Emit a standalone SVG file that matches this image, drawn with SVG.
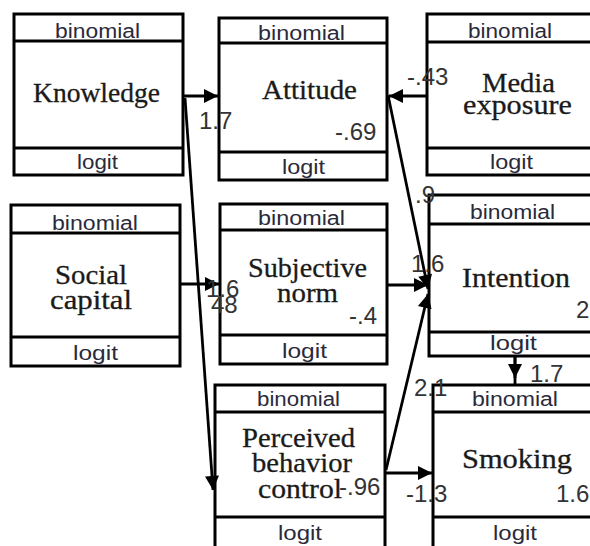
<svg xmlns="http://www.w3.org/2000/svg" width="590" height="546" viewBox="0 0 590 546">
<style>
.box{fill:#fff;stroke:#000;stroke-width:3}
.sep{stroke:#000;stroke-width:3}
.hd{font-family:"Liberation Sans",Arial,sans-serif;font-size:20px;fill:#2a2a3a}
.nm{font-family:"Liberation Serif","Times New Roman",serif;font-size:27px;fill:#1a1a1a;stroke:#1a1a1a;stroke-width:0.3}
.lb{font-family:"Liberation Sans",Arial,sans-serif;font-size:24px;fill:#333}
.cn{stroke:#000;stroke-width:2.8;fill:none}
</style>
<defs>
<marker id="ah" viewBox="0 0 10 10" markerUnits="userSpaceOnUse" markerWidth="20" markerHeight="14" refX="10" refY="5" orient="auto">
<path d="M0,0 L10,5 L0,10 z" fill="#000"/>
</marker>
</defs>
<rect width="590" height="546" fill="#fff"/>

<g id="knowledge">
<rect class="box" x="14" y="14" width="169" height="161"/>
<line class="sep" x1="14" y1="41" x2="183" y2="41"/>
<line class="sep" x1="14" y1="148" x2="183" y2="148"/>
<text class="hd" x="55" y="38" textLength="85" lengthAdjust="spacingAndGlyphs">binomial</text>
<text class="nm" x="33" y="102" textLength="127" lengthAdjust="spacingAndGlyphs">Knowledge</text>
<text class="hd" x="77" y="169" textLength="41" lengthAdjust="spacingAndGlyphs">logit</text>
</g>

<g id="attitude">
<rect class="box" x="219" y="18" width="168" height="162"/>
<line class="sep" x1="219" y1="43" x2="387" y2="43"/>
<line class="sep" x1="219" y1="152" x2="387" y2="152"/>
<text class="hd" x="258" y="40" textLength="87" lengthAdjust="spacingAndGlyphs">binomial</text>
<text class="nm" x="262" y="99" textLength="95" lengthAdjust="spacingAndGlyphs">Attitude</text>
<text class="hd" x="282" y="174" textLength="43" lengthAdjust="spacingAndGlyphs">logit</text>
</g>

<g id="media">
<rect class="box" x="427" y="14" width="200" height="161"/>
<line class="sep" x1="427" y1="42" x2="627" y2="42"/>
<line class="sep" x1="427" y1="148" x2="627" y2="148"/>
<text class="hd" x="468" y="38" textLength="84" lengthAdjust="spacingAndGlyphs">binomial</text>
<text class="nm" x="482" y="92" textLength="73" lengthAdjust="spacingAndGlyphs">Media</text>
<text class="nm" x="463" y="114" textLength="109" lengthAdjust="spacingAndGlyphs">exposure</text>
<text class="hd" x="490" y="169" textLength="43" lengthAdjust="spacingAndGlyphs">logit</text>
</g>

<g id="social">
<rect class="box" x="11" y="205" width="169" height="161"/>
<line class="sep" x1="11" y1="233" x2="180" y2="233"/>
<line class="sep" x1="11" y1="337" x2="180" y2="337"/>
<text class="hd" x="52" y="230" textLength="86" lengthAdjust="spacingAndGlyphs">binomial</text>
<text class="nm" x="55" y="284" textLength="72" lengthAdjust="spacingAndGlyphs">Social</text>
<text class="nm" x="50" y="309" textLength="82" lengthAdjust="spacingAndGlyphs">capital</text>
<text class="hd" x="73" y="360" textLength="45" lengthAdjust="spacingAndGlyphs">logit</text>
</g>

<g id="subjective">
<rect class="box" x="220" y="204" width="167" height="160"/>
<line class="sep" x1="220" y1="230" x2="387" y2="230"/>
<line class="sep" x1="220" y1="335" x2="387" y2="335"/>
<text class="hd" x="258" y="225" textLength="87" lengthAdjust="spacingAndGlyphs">binomial</text>
<text class="nm" x="248" y="277" textLength="119" lengthAdjust="spacingAndGlyphs">Subjective</text>
<text class="nm" x="277" y="302" textLength="61" lengthAdjust="spacingAndGlyphs">norm</text>
<text class="hd" x="282" y="358" textLength="45" lengthAdjust="spacingAndGlyphs">logit</text>
</g>

<g id="intention">
<rect class="box" x="429" y="195" width="200" height="161"/>
<line class="sep" x1="429" y1="224" x2="629" y2="224"/>
<line class="sep" x1="429" y1="332" x2="629" y2="332"/>
<text class="hd" x="470" y="219" textLength="85" lengthAdjust="spacingAndGlyphs">binomial</text>
<text class="nm" x="462" y="287" textLength="108" lengthAdjust="spacingAndGlyphs">Intention</text>
<text class="hd" x="490" y="350" textLength="47" lengthAdjust="spacingAndGlyphs">logit</text>
</g>

<g id="pbc">
<rect class="box" x="215" y="385" width="170" height="165"/>
<line class="sep" x1="215" y1="412" x2="385" y2="412"/>
<line class="sep" x1="215" y1="517" x2="385" y2="517"/>
<text class="hd" x="257" y="406" textLength="83" lengthAdjust="spacingAndGlyphs">binomial</text>
<text class="nm" x="242" y="447" textLength="113" lengthAdjust="spacingAndGlyphs">Perceived</text>
<text class="nm" x="252" y="472" textLength="100" lengthAdjust="spacingAndGlyphs">behavior</text>
<text class="nm" x="258" y="498" textLength="84" lengthAdjust="spacingAndGlyphs">control</text>
<text class="hd" x="278" y="540" textLength="44" lengthAdjust="spacingAndGlyphs">logit</text>
</g>

<g id="smoking">
<rect class="box" x="433" y="385" width="200" height="165"/>
<line class="sep" x1="433" y1="412" x2="633" y2="412"/>
<line class="sep" x1="433" y1="517" x2="633" y2="517"/>
<text class="hd" x="472" y="406" textLength="86" lengthAdjust="spacingAndGlyphs">binomial</text>
<text class="nm" x="462" y="468" textLength="110" lengthAdjust="spacingAndGlyphs">Smoking</text>
<text class="hd" x="493" y="540" textLength="44" lengthAdjust="spacingAndGlyphs">logit</text>
</g>

<g id="connectors">
<line class="cn" x1="184" y1="96" x2="218" y2="96" marker-end="url(#ah)"/>
<line class="cn" x1="185" y1="98" x2="213" y2="490" marker-end="url(#ah)"/>
<line class="cn" x1="181" y1="284" x2="219" y2="284" marker-end="url(#ah)"/>
<line class="cn" x1="426" y1="96" x2="389" y2="96" marker-end="url(#ah)"/>
<line class="cn" x1="388" y1="95" x2="428" y2="289" marker-end="url(#ah)"/>
<line class="cn" x1="388" y1="285" x2="428" y2="285" marker-end="url(#ah)"/>
<line class="cn" x1="386" y1="470" x2="428" y2="294" marker-end="url(#ah)"/>
<line class="cn" x1="386" y1="473" x2="432" y2="473" marker-end="url(#ah)"/>
<line class="cn" x1="515" y1="357" x2="515" y2="385"/>
<line class="cn" x1="515" y1="357" x2="515" y2="378" marker-end="url(#ah)"/>
</g>

<g id="labels">
<text class="lb" x="199" y="129">1.7</text>
<text class="lb" x="335" y="140">-.69</text>
<text class="lb" x="407" y="85">-.43</text>
<text class="lb" x="415" y="203">.9</text>
<text class="lb" x="411" y="272">1.6</text>
<text class="lb" x="206" y="297">1.6</text>
<text class="lb" x="211" y="313">48</text>
<text class="lb" x="349" y="324">-.4</text>
<text class="lb" x="576" y="318">2</text>
<text class="lb" x="530" y="382">1.7</text>
<text class="lb" x="414" y="396">2.1</text>
<text class="lb" x="339" y="495">-.96</text>
<text class="lb" x="406" y="502">-1.3</text>
<text class="lb" x="556" y="502">1.6</text>
</g>
</svg>
